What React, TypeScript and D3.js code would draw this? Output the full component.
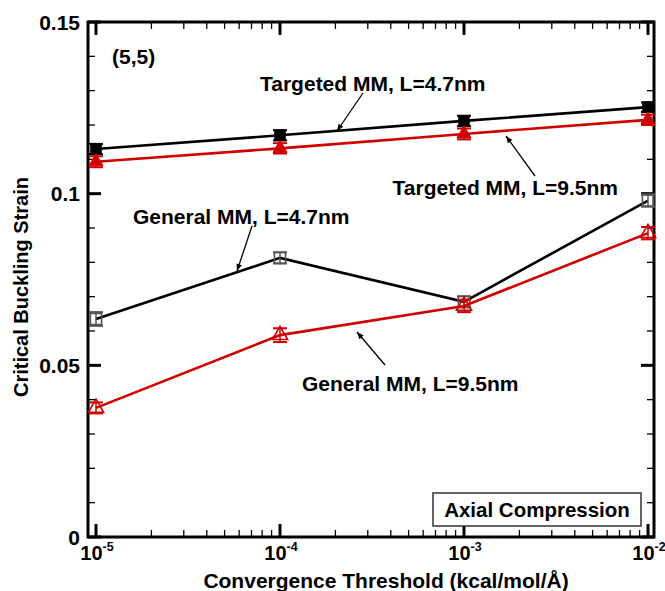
import React, { useEffect, useRef } from 'react';
import * as d3 from 'd3';

// convergence thresholds (kcal/mol/Å)
const thresholds = [1e-5, 1e-4, 1e-3, 1e-2];

// critical buckling strain
const targetedShort = [0.113, 0.117, 0.1212, 0.1252];
const targetedShortErr = [0.0015, 0.0015, 0.0015, 0.0014];
const targetedLong = [0.1093, 0.1132, 0.1174, 0.1215];
const targetedLongErr = [0.0016, 0.0015, 0.0016, 0.0015];
const generalShort = [0.0635, 0.0813, 0.0685, 0.098];
const generalShortErr = [0.002, 0.0016, 0.0016, 0.0018];
const generalLong = [0.0376, 0.0588, 0.0673, 0.0885];
const generalLongErr = [0.0016, 0.002, 0.0018, 0.0018];

const yTickLabels = ['0', '0.05', '0.1', '0.15'];
const xTickExponents = ['-5', '-4', '-3', '-2'];

const RED = '#d10000';

export default function App() {
  const ref = useRef<SVGSVGElement>(null);

  useEffect(() => {
    draw();
  }, []);

  function draw() {
    const svg = d3.select(ref.current);
    svg.selectAll('*').remove();
    const font = '"Liberation Sans", Arial, Helvetica, sans-serif';

    const frame = { left: 88, right: 654, top: 22, bottom: 537 };
    const x = d3.scaleLog().domain([1e-5, 1e-2]).range([96, 648]);
    const y = d3.scaleLinear().domain([0, 0.15]).range([frame.bottom, frame.top]);

    svg.append('defs').append('marker')
      .attr('id', 'arrow')
      .attr('viewBox', '0 0 10 10')
      .attr('refX', 10).attr('refY', 5)
      .attr('markerWidth', 9).attr('markerHeight', 7)
      .attr('markerUnits', 'userSpaceOnUse')
      .attr('orient', 'auto')
      .append('path')
      .attr('d', 'M0,1 L10,5 L0,9 Z')
      .attr('fill', '#000');

    // ticks (inward on all four sides)
    const ticks = svg.append('g');
    const xt = x.ticks().filter(v => v >= 1e-5 && v <= 1e-2);
    xt.forEach(v => {
      const major = Math.abs(Math.log10(v) - Math.round(Math.log10(v))) < 1e-6;
      const len = major ? 13 : 7;
      const w = major ? 3 : 1.3;
      ticks.append('line').attr('x1', x(v)).attr('x2', x(v))
        .attr('y1', frame.bottom).attr('y2', frame.bottom - len)
        .attr('stroke', '#000').attr('stroke-width', w);
      ticks.append('line').attr('x1', x(v)).attr('x2', x(v))
        .attr('y1', frame.top).attr('y2', frame.top + len)
        .attr('stroke', '#000').attr('stroke-width', w);
    });
    const yt = y.ticks(15);
    yt.forEach(v => {
      const major = Math.round(v * 100) % 5 === 0;
      const len = major ? 13 : 7;
      const w = major ? 3 : 1.3;
      ticks.append('line').attr('x1', frame.left).attr('x2', frame.left + len)
        .attr('y1', y(v)).attr('y2', y(v))
        .attr('stroke', '#000').attr('stroke-width', w);
      ticks.append('line').attr('x1', frame.right).attr('x2', frame.right - len)
        .attr('y1', y(v)).attr('y2', y(v))
        .attr('stroke', '#000').attr('stroke-width', w);
    });

    // frame
    svg.append('rect')
      .attr('x', frame.left).attr('y', frame.top)
      .attr('width', frame.right - frame.left).attr('height', frame.bottom - frame.top)
      .attr('fill', 'none').attr('stroke', '#000').attr('stroke-width', 3);

    // y tick labels
    yTickLabels.forEach(t => {
      svg.append('text')
        .attr('x', 80).attr('y', y(+t))
        .attr('dy', '0.36em')
        .attr('text-anchor', 'end')
        .attr('font-family', font).attr('font-weight', 'bold').attr('font-size', 21)
        .text(t);
    });

    // x tick labels
    thresholds.forEach((v, i) => {
      const t = svg.append('text')
        .attr('x', x(v) + 1).attr('y', 560)
        .attr('text-anchor', 'middle')
        .attr('font-family', font).attr('font-weight', 'bold').attr('font-size', 20);
      t.append('tspan').text('10');
      t.append('tspan').attr('dy', -9).attr('font-size', 12.5).text(xTickExponents[i]);
    });

    // axis titles
    svg.append('text')
      .attr('x', 386).attr('y', 588)
      .attr('text-anchor', 'middle')
      .attr('font-family', font).attr('font-weight', 'bold').attr('font-size', 21)
      .text('Convergence Threshold (kcal/mol/Å)');
    svg.append('text')
      .attr('transform', 'translate(28,287) rotate(-90)')
      .attr('text-anchor', 'middle')
      .attr('font-family', font).attr('font-weight', 'bold').attr('font-size', 20)
      .text('Critical Buckling Strain');

    const series = [
      { values: generalShort, err: generalShortErr, line: '#000', mark: '#555', type: 'square', filled: false },
      { values: targetedShort, err: targetedShortErr, line: '#000', mark: '#000', type: 'square', filled: true },
      { values: generalLong, err: generalLongErr, line: RED, mark: RED, type: 'triangle', filled: false },
      { values: targetedLong, err: targetedLongErr, line: RED, mark: RED, type: 'triangle', filled: true },
    ];

    const line = d3.line<number>()
      .x((_, i) => x(thresholds[i]))
      .y(d => y(d));

    series.forEach(s => {
      const g = svg.append('g');
      g.append('path')
        .attr('d', line(s.values))
        .attr('fill', 'none')
        .attr('stroke', s.line)
        .attr('stroke-width', 2.6);

      s.values.forEach((v, i) => {
        const cx = x(thresholds[i]);
        const lo = y(v - s.err[i]);
        const hi = y(v + s.err[i]);
        g.append('line').attr('x1', cx).attr('x2', cx).attr('y1', lo).attr('y2', hi)
          .attr('stroke', s.mark).attr('stroke-width', 1.5);
        [lo, hi].forEach(yy => {
          g.append('line').attr('x1', cx - 7).attr('x2', cx + 7).attr('y1', yy).attr('y2', yy)
            .attr('stroke', s.mark).attr('stroke-width', 2);
        });
        const sym = s.type === 'square'
          ? d3.symbol().type(d3.symbolSquare).size(s.filled ? 110 : 125)
          : d3.symbol().type(d3.symbolTriangle).size(s.filled ? 85 : 100);
        g.append('path')
          .attr('d', sym())
          .attr('transform', `translate(${cx},${y(v)})`)
          .attr('fill', s.filled ? s.mark : 'none')
          .attr('stroke', s.mark)
          .attr('stroke-width', s.filled ? 1 : 1.6);
      });
    });

    // annotations
    const labels = [
      { text: '(5,5)', x: 112, y: 56, anchor: 'start' },
      { text: 'Targeted MM, L=4.7nm', x: 260, y: 83, anchor: 'start' },
      { text: 'Targeted MM, L=9.5nm', x: 618, y: 187, anchor: 'end' },
      { text: 'General MM, L=4.7nm', x: 133, y: 216, anchor: 'start' },
      { text: 'General MM, L=9.5nm', x: 302, y: 383, anchor: 'start' },
    ];
    labels.forEach(l => {
      svg.append('text')
        .attr('x', l.x).attr('y', l.y)
        .attr('dy', '0.36em')
        .attr('text-anchor', l.anchor)
        .attr('font-family', font).attr('font-weight', 'bold').attr('font-size', 21)
        .text(l.text);
    });

    const arrows = [
      [363, 93, 337, 131],
      [535, 176, 506, 136],
      [252, 226, 237, 271],
      [385, 365, 357, 332],
    ];
    arrows.forEach(a => {
      svg.append('line')
        .attr('x1', a[0]).attr('y1', a[1]).attr('x2', a[2]).attr('y2', a[3])
        .attr('stroke', '#000').attr('stroke-width', 1.3)
        .attr('marker-end', 'url(#arrow)');
    });

    // boxed caption
    svg.append('rect')
      .attr('x', 433).attr('y', 493).attr('width', 208).attr('height', 33)
      .attr('fill', '#fff').attr('stroke', '#333').attr('stroke-width', 1.5);
    svg.append('text')
      .attr('x', 537).attr('y', 510).attr('dy', '0.36em')
      .attr('text-anchor', 'middle')
      .attr('font-family', font).attr('font-weight', 'bold').attr('font-size', 20.5)
      .text('Axial Compression');
  }

  return (
    <svg
      ref={ref}
      width={665}
      height={591}
      style={{ position: 'absolute', left: 0, top: 0, background: '#fff' }}
    />
  );
}
